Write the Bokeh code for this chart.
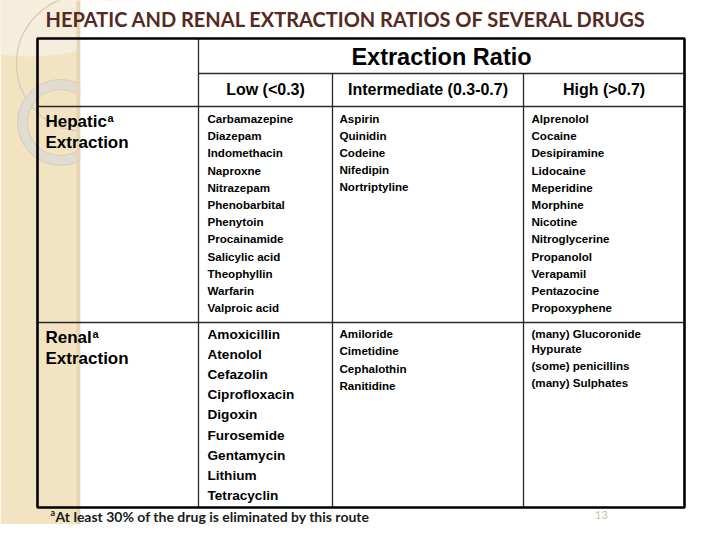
from bokeh.plotting import figure
from bokeh.models import Range1d
from bokeh.embed import file_html
from bokeh.resources import INLINE
from bokeh.core.properties import value

# ---------------- data ----------------
TITLE = "HEPATIC AND RENAL EXTRACTION RATIOS OF SEVERAL DRUGS"
HEADER = "Extraction Ratio"
CATEGORIES = ["Low (<0.3)", "Intermediate (0.3-0.7)", "High (>0.7)"]
ROUTES = ["Hepatic", "Renal"]
ROUTE_SUFFIX = "Extraction"
SUP = "a"

hepatic_low = ["Carbamazepine", "Diazepam", "Indomethacin", "Naproxne", "Nitrazepam",
               "Phenobarbital", "Phenytoin", "Procainamide", "Salicylic acid",
               "Theophyllin", "Warfarin", "Valproic acid"]
hepatic_int = ["Aspirin", "Quinidin", "Codeine", "Nifedipin", "Nortriptyline"]
hepatic_high = ["Alprenolol", "Cocaine", "Desipiramine", "Lidocaine", "Meperidine",
                "Morphine", "Nicotine", "Nitroglycerine", "Propanolol", "Verapamil",
                "Pentazocine", "Propoxyphene"]
renal_low = ["Amoxicillin", "Atenolol", "Cefazolin", "Ciprofloxacin", "Digoxin",
             "Furosemide", "Gentamycin", "Lithium", "Tetracyclin"]
renal_int = ["Amiloride", "Cimetidine", "Cephalothin", "Ranitidine"]
renal_high = [["(many) Glucoronide", "Hypurate"], ["(some) penicillins"], ["(many) Sulphates"]]

FOOTNOTE = "At least 30% of the drug is eliminated by this route"
PAGE = "13"

# ---------------- layout ----------------
W, H = 704, 524
X_L, X_LAB, X_C1, X_C2, X_R = 37, 198, 332, 523, 684
Y_T, Y_H1, Y_H2, Y_R, Y_B = 43, 78, 111, 327, 512
COL_TEXT_X = [207, 339, 531]
LABEL_X = 45

FONT = value("Liberation Sans")
GILL = value("Lato")

p = figure(width=W, height=H, output_backend="svg", toolbar_location=None,
           x_range=Range1d(0, 704), y_range=Range1d(529, 5),
           min_border=0, outline_line_color=None, background_fill_color="white",
           border_fill_color="white")
p.axis.visible = False
p.grid.visible = False

# --- decorative left strip ---
p.quad(left=[0], right=[80], top=[0], bottom=[540], fill_color="#F2E3C3", line_color=None)
p.ellipse(x=[30], y=[0], width=[220], height=[122], fill_color="#F6EDDC", line_color=None)
p.circle(x=[84], y=[68], radius=68, fill_color=None, line_color="#d6ccb8", line_width=1.3)
p.annulus(x=[60], y=[127], inner_radius=33, outer_radius=43,
          fill_color="#dedad1", fill_alpha=0.9, line_color=None)
p.circle(x=[60], y=[127], radius=43, fill_color=None, line_color="#cfc7b6", line_width=0.8)
p.circle(x=[60], y=[127], radius=33, fill_color=None, line_color="#cfc7b6", line_width=0.8)
p.quad(left=[76], right=[80], top=[0], bottom=[540], fill_color="#E6D6B2", line_color=None)
p.quad(left=[80], right=[720], top=[0], bottom=[540], fill_color="white", line_color=None)

# --- table grid ---
thin = dict(line_color="#2a2a2a", line_width=1.3)
p.segment(x0=[X_LAB], y0=[Y_T], x1=[X_LAB], y1=[Y_B], **thin)
p.segment(x0=[X_C1, X_C2], y0=[Y_H1, Y_H1], x1=[X_C1, X_C2], y1=[Y_B, Y_B], **thin)
p.segment(x0=[X_LAB], y0=[Y_H1], x1=[X_R], y1=[Y_H1], **thin)
p.segment(x0=[X_L, X_L], y0=[Y_H2, Y_R], x1=[X_R, X_R], y1=[Y_H2, Y_R], **thin)
p.quad(left=[X_L], right=[X_R], top=[Y_T], bottom=[Y_B], fill_color=None,
       line_color="black", line_width=2.6)

# --- title ---
p.text(x=[45], y=[23], text=[TITLE], text_font=GILL, text_font_style="bold",
       text_font_size="20px", text_color="#56291E", text_baseline="middle")

# --- headers ---
p.text(x=[(X_LAB + X_R) / 2], y=[61], text=[HEADER], text_font=FONT,
       text_font_style="bold", text_font_size="23.5px", text_color="black",
       text_align="center", text_baseline="middle")
col_edges = [X_LAB, X_C1, X_C2, X_R]
p.text(x=[(col_edges[i] + col_edges[i + 1]) / 2 for i in range(3)], y=[94] * 3,
       text=CATEGORIES, text_font=FONT, text_font_style="bold", text_font_size="16px",
       text_color="black", text_align="center", text_baseline="middle")

# --- row labels ---
route_y = [(126, 147), (342, 363)]
sup_x = [107, 92]
for r, (y1, y2) in enumerate(route_y):
    p.text(x=[LABEL_X, LABEL_X], y=[y1, y2], text=[ROUTES[r], ROUTE_SUFFIX],
           text_font=FONT, text_font_style="bold", text_font_size="17px",
           text_color="black", text_baseline="middle")
    p.text(x=[sup_x[r]], y=[y1 - 4], text=[SUP], text_font=FONT, text_font_style="bold",
           text_font_size="11px", text_color="black", text_baseline="middle")

# --- cells ---
def cell(items, x, y0, pitch, size):
    p.text(x=[x] * len(items), y=[y0 + i * pitch for i in range(len(items))], text=items,
           text_font=FONT, text_font_style="bold", text_font_size=size,
           text_color="black", text_baseline="middle")

cell(hepatic_low, COL_TEXT_X[0], 123, 17.2, "11.6px")
cell(hepatic_int, COL_TEXT_X[1], 123, 17.1, "11.6px")
cell(hepatic_high, COL_TEXT_X[2], 123, 17.2, "11.6px")
cell(renal_low, COL_TEXT_X[0], 339, 20.1, "13.6px")
cell(renal_int, COL_TEXT_X[1], 338, 17.3, "11.6px")

# wrapped entries in the high renal cell
ys, ts = [], []
y = 338
for entry in renal_high:
    for j, line in enumerate(entry):
        if j > 0:
            y += 15
        ys.append(y)
        ts.append(line)
    y += 17
p.text(x=[COL_TEXT_X[2]] * len(ts), y=ys, text=ts, text_font=FONT, text_font_style="bold",
       text_font_size="11.6px", text_color="black", text_baseline="middle")

# --- footnote & page number ---
p.text(x=[50], y=[517], text=[SUP], text_font=GILL, text_font_style="bold",
       text_font_size="9px", text_color="#1a1a1a", text_baseline="middle")
p.text(x=[55], y=[521], text=[FOOTNOTE], text_font=GILL, text_font_style="bold",
       text_font_size="14px", text_color="#1a1a1a", text_baseline="middle")
p.text(x=[601], y=[519], text=[PAGE], text_font=GILL, text_font_size="11px",
       text_color="#cbbf9f", text_align="center", text_baseline="middle")

open("out.html", "w").write(file_html(p, INLINE))
